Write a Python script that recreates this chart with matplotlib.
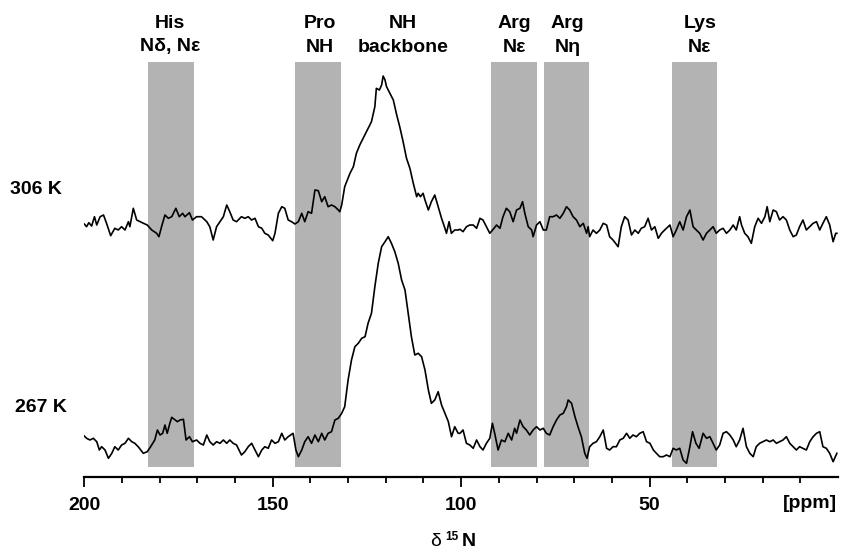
import matplotlib
matplotlib.use("Agg")
import matplotlib.pyplot as plt
from matplotlib.ticker import FixedLocator

plt.rcParams['font.family'] = ['Liberation Sans', 'DejaVu Sans']

# ---------------- data ----------------
# 306 K spectrum: chemical shift (ppm) and intensity (a.u.)
ppm_306 = [200.0, 199.4, 198.8, 198.05, 197.3, 196.7, 195.8, 194.9, 194.1, 193.0, 191.9, 191.0, 190.1, 189.2,
           188.3, 187.9, 187.0, 186.1, 185.2, 184.3, 183.3, 182.1, 180.8, 180.2, 179.5, 178.6, 177.7, 176.8,
           175.7, 174.8, 173.9, 173.3, 172.1, 171.3, 170.2, 168.9, 167.5, 166.7, 165.8, 164.9, 164.0, 163.1,
           162.2, 161.4, 160.5, 159.6, 158.3, 157.4, 156.5, 155.6, 154.7, 153.8, 152.9, 152.1, 151.2, 150.0,
           149.4, 148.5, 147.6, 146.8, 145.9, 145.0, 144.1, 143.2, 142.3, 141.5, 140.6, 139.7, 138.8, 137.9,
           137.0, 136.2, 135.3, 134.4, 133.5, 132.6, 132.2, 131.7, 130.9, 129.5, 128.6, 127.8, 126.9, 126.0,
           125.1, 123.8, 122.9, 122.5, 121.7, 121.1, 120.7, 120.2, 119.8, 118.9, 118.0, 117.1, 116.3, 115.4,
           114.5, 113.6, 112.7, 111.8, 111.4, 110.8, 110.1, 109.6, 108.7, 107.9, 107.0, 106.1, 105.2, 104.3,
           103.9, 103.2, 102.6, 101.7, 100.8,
           100.3, 99.5, 98.6, 97.7, 96.8, 95.9, 95.0, 94.2, 93.3, 92.4, 91.5, 90.6, 89.7, 88.9, 88.0, 87.1,
           86.2, 85.3, 84.4, 83.7, 83.1, 82.2, 81.3, 80.9, 80.0, 79.1, 78.2, 77.4, 76.5, 75.6, 74.7, 73.8,
           72.9, 72.05, 71.2, 70.3, 69.4, 68.5, 67.6, 66.7, 66.3, 65.9, 65.0, 64.1, 63.2, 62.3, 61.4, 60.6,
           59.7, 58.35, 57.5, 56.6, 55.7, 54.8, 53.9, 53.0, 52.2, 51.3, 50.4, 49.5, 48.6, 47.7, 46.85, 46.0,
           44.6, 43.75, 42.9, 42.0, 41.1, 40.2, 39.3, 38.45, 37.6, 36.7, 35.8, 34.9, 34.0, 33.15, 32.3, 31.4,
           30.5, 29.6, 28.7, 27.8, 27.0, 26.1, 25.6, 24.75, 23.9, 23.0, 22.1, 21.2, 20.3, 19.4, 18.8, 18.1,
           17.2, 16.35, 15.5, 14.6, 13.7, 12.8, 11.9, 11.05, 10.2, 9.3, 8.4, 7.5, 6.6, 5.7, 4.85, 4.0, 3.1,
           2.2, 1.3, 0.6, 0.3]
int_306 = [2, -0.7, 3.3, 0, 9.3, 1, 9.3, 11, 2.7, -9.7, -2.3, -4, -0.7, -4,
           4.3, -0.7, 17.7, 6, 4.3, 2.7, 1, -4, -7.3, -10.7, -0.7, 11, 7.7, 9.3,
           17.7, 9.3, 12.7, 9.3, 13.3, 6, 9.3, 9.3, 4.3, -0.7, -14, -0.7, 4.3, 9.3,
           21, 14.3, 6, 4.3, 9.3, 7.7, 9.3, 6, 7.7, -0.7, -2.3, -7.3, -9, -14.7,
           -7.3, 12.7, 19.3, 17.7, 6, 4.3, 2, 4.3, 12.7, 4.3, 14.3, 12.7, 36, 35.3,
           24.3, 29.3, 19.3, 21, 19.3, 16, 14.3, 21, 39.3, 52.7, 59.3, 72.7, 81, 87.7,
           94.3, 104.3, 119.3, 137.7, 136, 141, 150, 146, 139.3, 132.7, 126, 111, 99.3, 84.3,
           67.7, 57.7, 42.7, 29.3, 32.7, 29.3, 32.7, 26, 16, 24.3, 31, 19.3, 7.7, -2.3,
           -7.3, 4.3, -7.3, -4, -4,
           -3.3, -5.7, -0.7, 1, 1, -2.3, 7.7, 6, -0.7, -7.3, -3.3, 1, -2.3, 9.3, 17.7, 14.3,
           4.3, 16, 17.7, 24.3, 12.7, -0.7, -4, -10.7, 1, 4.3, -4, -4, 9.3, 9.3, 11, 7.7,
           12.7, 19.3, 16, 9.3, 6, -0.7, 2.7, -7.3, -0.7, -10.7, -4, -7.3, -4, 2.7, 1, -10.7,
           -14, -20.7, -0.7, 9.3, 6, -9, -4, -7.3, -2.3, -0.7, 7.7, -4, -0.7, -12.3, -7.3, -4,
           1, -10.7, -4, 4.3, -4, 9.3, 16, -0.7, -4, -7.3, -14, -7.3, -4, -0.7, -7.3, -4,
           -2.3, -7.3, -4, 1, -4, 9.3, 1, -7.3, -10.7, -17.3, -0.7, 7.7, 2.7, 9.3, 19.3, 4.3,
           16, 14.3, 6, 9.3, 6, -4, -10.7, -9, -0.7, 6, -4, -0.7, 2.7, 4.3, -4, 2.7, 9.3,
           1, -15.7, -7.3, -7.3]

# 267 K spectrum
ppm_267 = [200.0, 199.4, 198.5, 197.6, 196.7, 196.0, 195.4, 194.5, 193.6, 192.7, 191.9, 191.0, 190.1, 189.2,
           188.3, 187.4, 186.6, 185.7, 184.35, 183.3, 182.4, 181.3, 180.6, 179.9, 179.2, 178.6, 178.0, 177.3,
           176.8, 175.9, 175.3, 174.6, 173.7, 173.0, 172.1, 171.3, 170.2, 169.3, 168.4, 167.5, 166.7, 165.8,
           164.9, 164.0, 163.1, 162.2, 161.4, 160.5, 159.6, 158.3, 157.4, 156.5, 155.6, 154.7, 153.8, 152.9,
           152.1, 151.2, 150.3, 149.4, 148.5, 147.6, 146.8, 145.9, 144.6, 143.85, 143.2, 142.3, 141.5, 140.6,
           139.7, 138.8, 137.9, 137.0, 136.2, 135.3, 134.4, 133.5, 132.6, 131.7, 130.9, 130.0, 129.1, 128.2,
           127.3, 126.4, 125.5, 124.7, 123.8, 122.9, 122.0, 121.1, 120.2, 119.35, 118.5, 117.6, 116.7, 115.8,
           114.9, 114.05, 113.2, 112.3, 111.4, 110.5, 109.6, 108.7, 107.9, 107.0, 106.1, 105.2, 104.3, 103.4,
           102.55, 101.7, 100.8,
           100.3, 99.5, 98.6, 97.7, 96.8, 95.9, 95.0, 94.2, 93.3, 92.4, 91.7, 91.1, 90.2, 89.3, 88.4, 87.5,
           86.6, 85.8, 85.3, 84.4, 83.55, 82.7, 81.8, 80.9, 80.0, 79.1, 78.2, 77.4, 76.5, 75.6, 74.7, 73.8,
           72.9, 72.05, 71.6, 70.7, 69.8, 69.0, 68.1, 67.2, 66.6, 65.9, 65.0, 64.1, 63.2, 62.3, 61.4, 60.6,
           59.7, 58.8, 57.9, 57.0, 56.1, 55.25, 54.4, 53.5, 52.6, 51.7, 50.8, 49.9, 49.0, 48.2, 47.3, 46.4,
           45.5, 44.6, 43.75, 42.9, 42.0, 41.1, 40.2, 39.3, 38.6, 37.7, 36.85, 35.8, 34.9, 34.0, 33.15, 32.3,
           31.4, 30.5, 29.6, 28.7, 27.8, 27.0, 26.1, 25.2, 24.3, 23.4, 22.5, 21.7, 20.8, 19.9, 19.0, 18.1,
           17.2, 16.35, 15.5, 14.6, 13.7, 12.8, 11.9, 11.05, 10.2, 9.3, 8.4, 7.5, 6.6, 5.7, 4.85, 4.0, 3.1,
           2.2, 1.3, 0.3]
int_267 = [10, 7.7, 6, 7.7, 4.3, -4, -0.7, -4, -12.3, -7.3, -0.7, -4, 1, 2.7,
           7.7, 4.3, 2.7, -0.7, -7.3, -5.7, -0.7, 6, 16, 11, 12.7, 21, 12.7, 22.7,
           28.7, 26, 24.3, 26, 26.7, 6, 9.3, 4.3, 6, 2.7, 1, 11, 4.3, 1,
           4.3, 2.7, 6, 2.7, 6, 2.7, 1, -9, -5.7, -0.7, 2.7, -4, -10.7, -4,
           -0.7, -2.3, 6, 2.7, 4.3, 12.7, 6, 9.3, 12.7, -4, -10.7, -4, 4.3, 9.3,
           2.7, 11, 4.3, 12.7, 6, 12.7, 14.3, 26, 27.7, 32.7, 39.3, 66, 86, 99.3,
           102.7, 107.7, 109.3, 122.7, 132.7, 159.3, 182.7, 199.3, 204.3, 209.3, 202.7, 194.3, 182.7, 166,
           156, 132.7, 109.3, 91, 92.7, 89.3, 76, 56, 42.7, 46, 54.3, 41, 32.7, 24.3,
           9.3, 19.3, 12.7,
           12.7, 16, 2.7, 1, -2.3, 6, -0.7, -4, 2.7, 7.7, 22.7, 12.7, -4, 6, 4.3, 12.7,
           6, 17.7, 12.7, 26, 19.3, 16, 11, 16, 19.3, 16, 17.7, 12.7, 11, 19.3, 26, 31,
           32.7, 39.3, 46, 42.7, 29.3, 19.3, 9.3, -7.3, -12.3, -0.7, 2.7, 4.3, 9.3, 16, -2.3, -4,
           -0.7, -0.7, 6, 7.7, 12.7, 7.7, 11, 9.3, 12.7, 14.3, 4.3, 2.7, -4, -7.3, -10.7, -10.7,
           -9, -10.7, -2.3, -4, -2.3, -14, -17.3, -0.7, 14.3, 2.7, -2.3, 12.7, 7.7, 9.3, 2.7, -4,
           1, 12.7, 14.3, 11, 6, -0.7, 6, 17.7, -0.7, -7.3, -10.7, -0.7, 2.7, 4.3, 6, 4.3,
           6, 2.7, 4.3, 6, 9.3, 2.7, -0.7, -4, -0.7, -2.3, -4, 4.3, 9.3, 12.7, 14.3, -0.7, -2.3,
           -7.3, -15.7, -7.3]

# shaded assignment regions (ppm from, ppm to)
band_start = [183, 144, 92, 78, 44]
band_end = [171, 132, 80, 66, 32]

# region labels
label_ppm = [177.2, 137.5, 115.5, 85.8, 71.7, 36.7]
label_top = ["His", "Pro", "NH", "Arg", "Arg", "Lys"]
label_bottom = ["N\u03b4, N\u03b5", "NH", "backbone", "N\u03b5", "N\u03b7", "N\u03b5"]

trace_labels = ["306 K", "267 K"]
major_ticks = [200, 150, 100, 50]
tick_labels = ["200", "150", "100", "50"]

# ---------------- figure ----------------
W, H = 847, 552
FS = 14
fig = plt.figure(figsize=(W / 100, H / 100), dpi=100)
x0, x1 = 84.3, 838.0
y_axis = 477.0
ax = fig.add_axes([x0 / W, (H - y_axis) / H, (x1 - x0) / W, y_axis / H])
ax.set_xlim(200, 0)
ax.set_ylim(-31, 446)

offset_306 = 220

for s, e in zip(band_start, band_end):
    ax.axvspan(e, s, ymin=10 / 477, ymax=415 / 477, color="#b3b3b3", lw=0, zorder=1)

ax.plot(ppm_306, [v + offset_306 for v in int_306], color="black", lw=1.2, zorder=3)
ax.plot(ppm_267, int_267, color="black", lw=1.2, zorder=3)

for xp, t1, t2 in zip(label_ppm, label_top, label_bottom):
    ax.text(xp, 446 - 23, t1, ha="center", va="center", fontsize=FS, fontweight="bold")
    ax.text(xp, 446 - 47, t2, ha="center", va="center", fontsize=FS, fontweight="bold")

fig.text(10 / W, 1 - 190 / H, trace_labels[0], ha="left", va="center", fontsize=FS, fontweight="bold")
fig.text(15 / W, 1 - 407 / H, trace_labels[1], ha="left", va="center", fontsize=FS, fontweight="bold")

for sp in ["top", "right", "left"]:
    ax.spines[sp].set_visible(False)
ax.spines["bottom"].set_linewidth(1.6)
ax.set_yticks([])
ax.xaxis.set_major_locator(FixedLocator(major_ticks))
ax.set_xticklabels(tick_labels)
ax.xaxis.set_minor_locator(FixedLocator([v for v in range(190, 5, -10) if v % 50 != 0]))
ax.tick_params(axis="x", which="major", direction="out", length=7.5, width=1.3, pad=7,
               labelsize=FS)
ax.tick_params(axis="x", which="minor", direction="out", length=4, width=1.3)
for lab in ax.get_xticklabels():
    lab.set_fontweight("bold")

fig.text(837 / W, 1 - 504 / H, "[ppm]", ha="right", va="center", fontsize=FS, fontweight="bold")

# x-axis title
fig.text(436 / W, 1 - 542 / H, "\u03b4", ha="center", va="center", fontsize=14)
fig.text(452 / W, 1 - 537 / H, "15", ha="center", va="center", fontsize=8.5, fontweight="bold")
fig.text(469 / W, 1 - 542 / H, "N", ha="center", va="center", fontsize=14, fontweight="bold")

fig.savefig("out.png", dpi=100)
